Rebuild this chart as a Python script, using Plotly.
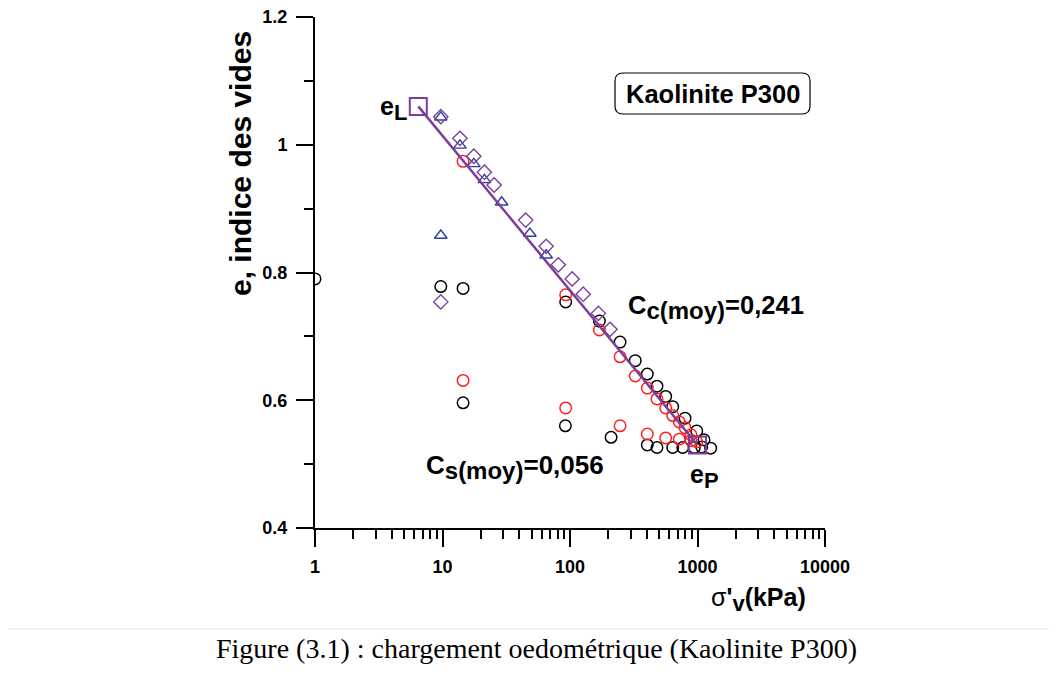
import plotly.graph_objects as go

# ---- data (sigma'v in kPa, e void ratio) ----
black_x = [1, 9.7, 14.5, 14.5, 92.5, 92, 170, 210, 247, 325, 404, 404, 481, 481, 563,
           639, 639, 766, 798, 944, 986, 1079, 1125, 1268]
black_e = [0.790, 0.778, 0.775, 0.596, 0.754, 0.560, 0.724, 0.542, 0.691, 0.662, 0.641, 0.530,
           0.622, 0.526, 0.606, 0.590, 0.526, 0.526, 0.572, 0.526, 0.552, 0.527, 0.538, 0.525]

red_x = [14.5, 14.5, 92.5, 92.5, 170, 247, 247, 325, 404, 404, 481, 563, 563, 639, 720, 720,
         798, 890, 890, 986]
red_e = [0.974, 0.631, 0.765, 0.588, 0.710, 0.668, 0.560, 0.638, 0.619, 0.547, 0.602, 0.588,
         0.541, 0.576, 0.566, 0.539, 0.557, 0.546, 0.537, 0.535]

blue_x = [9.7, 9.7, 13.7, 17.6, 21.3, 29.1, 48.4, 65]
blue_e = [1.043, 0.858, 0.999, 0.970, 0.945, 0.910, 0.861, 0.827]

purple_x = [9.7, 9.7, 13.7, 17.6, 21.3, 25.4, 44.9, 65, 81, 104, 127, 167, 206]
purple_e = [1.044, 0.754, 1.010, 0.982, 0.957, 0.937, 0.882, 0.841, 0.812, 0.790, 0.766, 0.736, 0.711]

fit_x = [6.46, 1000]
fit_e = [1.06, 0.53]

x_ticks = [1, 10, 100, 1000, 10000]
x_ticktext = ["1", "10", "100", "1000", "10000"]
y_ticks = [0.4, 0.6, 0.8, 1.0, 1.2]
y_ticktext = ["0.4", "0.6", "0.8", "1", "1.2"]

BLACK = "#000000"
RED = "#ff1f1f"
BLUE = "#2b3f9e"
PURPLE = "#7b3f9b"
FONT = "Liberation Sans, Arial, sans-serif"

fig = go.Figure()
fig.add_trace(go.Scatter(x=black_x, y=black_e, mode="markers",
                         marker=dict(symbol="circle-open", size=11.5, color=BLACK, line=dict(width=1.5, color=BLACK))))
fig.add_trace(go.Scatter(x=red_x, y=red_e, mode="markers",
                         marker=dict(symbol="circle-open", size=11.5, color=RED, line=dict(width=1.5, color=RED))))
fig.add_trace(go.Scatter(x=blue_x, y=blue_e, mode="markers",
                         marker=dict(symbol="triangle-up-open", size=11, color=BLUE, line=dict(width=1.4, color=BLUE))))
fig.add_trace(go.Scatter(x=purple_x, y=purple_e, mode="markers",
                         marker=dict(symbol="diamond-open", size=11, color=PURPLE, line=dict(width=1.4, color=PURPLE))))
fig.add_trace(go.Scatter(x=fit_x, y=fit_e, mode="lines+markers",
                         line=dict(color=PURPLE, width=2.5),
                         marker=dict(symbol="square-open", size=17, color=PURPLE, line=dict(width=2, color=PURPLE))))

# page body margin compensation (browser default 8px)
OX, OY = 8, 8
W, H = 1057, 673
PL, PR, PT, PB = 315, 825, 17, 528          # plot box in reference pixels
L, R, T, B = PL - OX, W - (PR - OX), PT - OY, H - (PB - OY)
PW, PH = PR - PL, PB - PT


def px(x):
    return (x - PL) / PW


def py(y):
    return (PB - y) / PH


fig.update_layout(
    width=W, height=H,
    margin=dict(l=L, r=R, t=T, b=B, pad=0, autoexpand=False),
    paper_bgcolor="white", plot_bgcolor="white",
    showlegend=False,
    font=dict(family=FONT, color="black"),
    xaxis=dict(type="log", range=[0, 4], showgrid=False, zeroline=False, automargin=False,
               showline=True, linecolor="black", linewidth=2,
               tickmode="array", tickvals=x_ticks, ticktext=x_ticktext,
               ticks="outside", ticklen=17, tickwidth=2, tickcolor="black",
               ticklabelstandoff=4, ticklabeloverflow="allow",
               tickfont=dict(size=18, family=FONT, weight="bold"),
               minor=dict(ticks="outside", ticklen=9, tickwidth=2, tickcolor="black", dtick="D1")),
    yaxis=dict(range=[0.4, 1.2], showgrid=False, zeroline=False, automargin=False,
               showline=True, linecolor="black", linewidth=2,
               tickmode="array", tickvals=y_ticks, ticktext=y_ticktext,
               ticks="outside", ticklen=17, tickwidth=2, tickcolor="black",
               ticklabelstandoff=5, ticklabeloverflow="allow",
               tickfont=dict(size=18, family=FONT, weight="bold"),
               minor=dict(ticks="outside", ticklen=9, tickwidth=2, tickcolor="black", dtick=0.1)),
)

# rounded box for the label
x0, x1, y0, y1 = px(615), px(810), py(114), py(73)
rx, ry = 8 / PW, 8 / PH
path = (f"M {x0+rx},{y0} L {x1-rx},{y0} Q {x1},{y0} {x1},{y0+ry} L {x1},{y1-ry} "
        f"Q {x1},{y1} {x1-rx},{y1} L {x0+rx},{y1} Q {x0},{y1} {x0},{y1-ry} "
        f"L {x0},{y0+ry} Q {x0},{y0} {x0+rx},{y0} Z")
fig.add_shape(type="path", path=path, xref="paper", yref="paper",
              line=dict(color="black", width=1.2), fillcolor="white", layer="above")

# faint page frame line
GREY = "#e6e6e6"
fig.add_shape(type="line", xref="paper", yref="paper", x0=px(0), x1=px(1070), y0=py(629), y1=py(629),
              line=dict(color=GREY, width=1))


def ann(text, x, y, size, xanchor="center", angle=0, family=FONT, bold=True):
    fig.add_annotation(text=(f"<b>{text}</b>" if bold else text), x=px(x), y=py(y),
                       xref="paper", yref="paper", showarrow=False,
                       xanchor=xanchor, yanchor="middle", textangle=angle,
                       font=dict(size=size, family=family, color="black"))


def sub(t, size):
    return f"<sub><span style='font-size:{size}px'>{t}</span></sub>"


ann("Kaolinite P300", 713, 94, 25.5)
ann("e" + sub("L", 22), 409, 108, 25, xanchor="right")
ann("e" + sub("P", 22), 704, 476, 25)
ann("C" + sub("c(moy)", 24) + "=0,241", 716, 307, 25.5)
ann("C" + sub("s(moy)", 24) + "=0,056", 515, 467, 26)
ann("σ<b>'" + sub("v", 22) + "(kPa)</b>", 758, 599, 25, bold=False)
ann("e, indice des vides", 240, 164, 30, angle=-90)
ann("Figure (3.1) : chargement oedométrique (Kaolinite P300)", 536, 648, 28,
    family="Liberation Serif, Times New Roman, serif", bold=False)

fig.write_html("out.html")
